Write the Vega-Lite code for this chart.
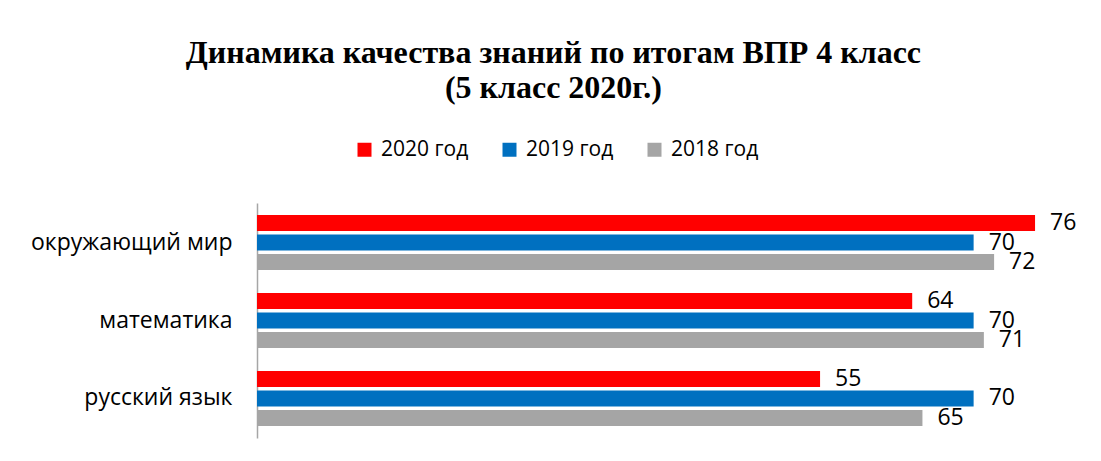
{
  "$schema": "https://vega.github.io/schema/vega-lite/v6.json",
  "width": 819,
  "height": 235,
  "autosize": {"type": "none"},
  "padding": {"left": 257, "top": 203, "right": 25, "bottom": 23},
  "background": "white",
  "config": {"view": {"stroke": null}},
  "title": {
    "text": ["Динамика качества знаний по итогам ВПР 4 класс", "(5 класс 2020г.)"],
    "font": "Liberation Serif",
    "fontSize": 32,
    "fontWeight": "bold",
    "color": "black",
    "anchor": "middle",
    "frame": "bounds",
    "lineHeight": 35,
    "offset": 34
  },
  "data": {
    "values": [
      {"subject": "окружающий мир", "year": "2020 год", "value": 76},
      {"subject": "окружающий мир", "year": "2019 год", "value": 70},
      {"subject": "окружающий мир", "year": "2018 год", "value": 72},
      {"subject": "математика", "year": "2020 год", "value": 64},
      {"subject": "математика", "year": "2019 год", "value": 70},
      {"subject": "математика", "year": "2018 год", "value": 71},
      {"subject": "русский язык", "year": "2020 год", "value": 55},
      {"subject": "русский язык", "year": "2019 год", "value": 70},
      {"subject": "русский язык", "year": "2018 год", "value": 65}
    ]
  },
  "encoding": {
    "y": {
      "field": "subject",
      "type": "nominal",
      "sort": ["окружающий мир", "математика", "русский язык"],
      "scale": {"paddingInner": 0.295, "paddingOuter": 0.154},
      "axis": {
        "title": null,
        "ticks": false,
        "domainColor": "#a6a6a6",
        "domainWidth": 1.5,
        "labelFont": "Open Sans",
        "labelFontSize": 23,
        "labelColor": "black",
        "labelPadding": 25,
        "labelLimit": 300
      }
    },
    "yOffset": {
      "field": "year",
      "sort": ["2020 год", "2019 год", "2018 год"],
      "scale": {"paddingInner": 0.18, "paddingOuter": 0}
    },
    "x": {
      "field": "value",
      "type": "quantitative",
      "scale": {"domain": [0, 80]},
      "axis": null
    }
  },
  "layer": [
    {
      "mark": {"type": "bar"},
      "encoding": {
        "color": {
          "field": "year",
          "type": "nominal",
          "scale": {
            "domain": ["2020 год", "2019 год", "2018 год"],
            "range": ["#ff0000", "#0070c0", "#a5a5a5"]
          },
          "legend": {
            "title": null,
            "orient": "none",
            "direction": "horizontal",
            "legendX": 97,
            "legendY": -64,
            "symbolType": "square",
            "symbolSize": 196,
            "symbolStrokeWidth": 0,
            "labelFont": "Open Sans",
            "labelFontSize": 21,
            "labelColor": "black",
            "labelOffset": 6,
            "columnPadding": 30,
            "padding": 0
          }
        }
      }
    },
    {
      "mark": {
        "type": "text",
        "align": "left",
        "baseline": "middle",
        "dx": 15,
        "font": "Open Sans",
        "fontSize": 23,
        "color": "black"
      },
      "encoding": {
        "text": {"field": "value", "type": "quantitative"}
      }
    }
  ]
}
